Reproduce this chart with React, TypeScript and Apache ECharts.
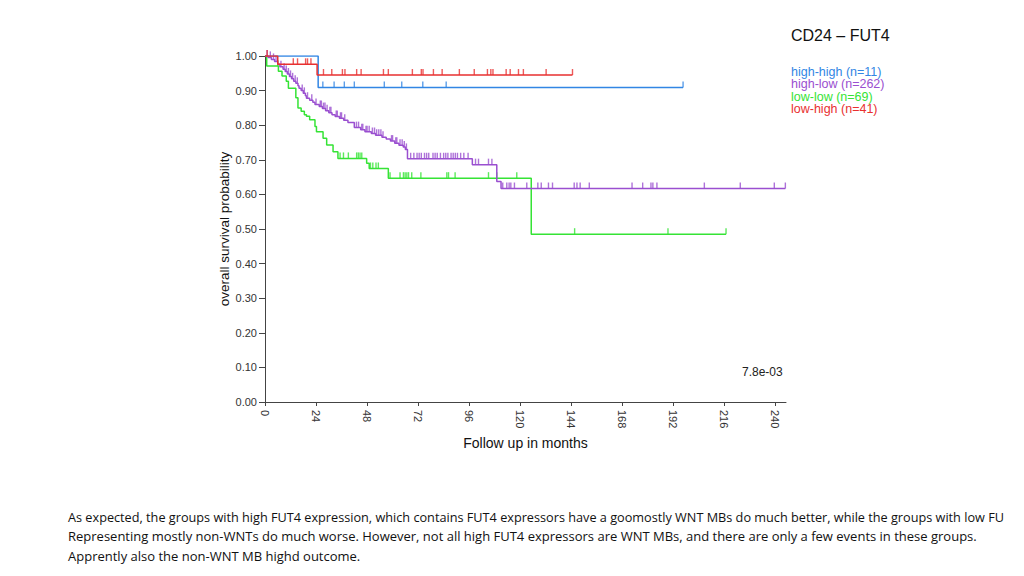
import React, { useEffect, useRef } from "react";
import * as echarts from "echarts";

// ---- data ----
const xTicks = [0, 24, 48, 72, 96, 120, 144, 168, 192, 216, 240];
const groupNames = ["high-high (n=11)", "high-low (n=262)", "low-low (n=69)", "low-high (n=41)"];
const groupColors = ["#3286e4", "#9a4fd0", "#35e335", "#e83030"];

// high-high (blue)
const hhTimes = [0, 25, 196.6];
const hhSurv = [1.0, 0.909, 0.909];
const hhCensor = [27.2, 32.5, 37.3, 42.0, 56.1, 64.3, 74.2, 85.2, 196.6];

// high-low (purple)
const hlTimes = [0, 1.5, 3, 4.5, 6, 7, 8.5, 9.5, 10.5, 11.5, 12.5, 13.5, 14.5, 15.5, 16, 17, 18, 19, 19.5, 21, 22.5, 23.5, 25.5, 27, 28.5, 30, 31.5, 33, 35, 37, 39, 42, 45, 47, 50, 52, 55, 57, 59, 61, 63, 65, 66, 67, 97.5, 109, 111, 244.7];
const hlSurv = [1.0, 0.996, 0.99, 0.984, 0.976, 0.969, 0.962, 0.955, 0.948, 0.941, 0.934, 0.927, 0.921, 0.914, 0.907, 0.9, 0.892, 0.885, 0.878, 0.872, 0.866, 0.86, 0.854, 0.848, 0.842, 0.836, 0.83, 0.825, 0.82, 0.814, 0.808, 0.793, 0.787, 0.781, 0.776, 0.771, 0.765, 0.76, 0.754, 0.748, 0.742, 0.737, 0.73, 0.703, 0.686, 0.637, 0.617, 0.617];
const hlCensor = [1, 2.5, 4, 5.2, 7.5, 9, 10, 11, 12, 13, 14.2, 15.2, 17.5, 18.5, 20, 22, 24, 26, 26.5, 27.5, 28.2, 29.2, 30.5, 31, 33.5, 34, 35.5, 36, 37.5, 43, 44, 45.5, 46, 47.5, 48, 49, 50.5, 51.5, 52.5, 53.5, 54.5, 55.5, 59.5, 60, 61.5, 62, 63.5, 64.5, 65.5, 66.5, 68.5, 70, 71.5, 72.5, 73.5, 75, 76, 77, 79, 80, 81, 82.5, 84, 85, 86, 87.5, 88.5, 89.5, 90.5, 92, 93.5, 95.5, 99, 100.4, 105.1, 106.7, 111.8, 113.7, 114.8, 115.6, 117.3, 123.1, 128.3, 129.9, 133.3, 135.2, 145.4, 146.7, 148.2, 152.5, 172.6, 177.6, 181.5, 182.4, 184.3, 206.6, 223.5, 239.5, 244.7];

// low-low (green)
const llTimes = [0, 0.8, 6.3, 8, 10, 11, 14.5, 15.5, 17, 18.5, 19.5, 21, 23.5, 24.2, 27.3, 29, 32, 34.3, 47.8, 49, 58, 125.2, 216.8];
const llSurv = [1.0, 0.971, 0.956, 0.942, 0.927, 0.907, 0.879, 0.85, 0.84, 0.83, 0.826, 0.816, 0.796, 0.781, 0.762, 0.743, 0.723, 0.704, 0.69, 0.675, 0.647, 0.485, 0.485];
const llCensor = [6, 35.3, 36.9, 39.2, 43.1, 43.9, 44.7, 45.5, 49.6, 50.7, 52.2, 53.3, 58.8, 63.5, 65.1, 65.9, 66.7, 67.5, 69, 73.3, 85.5, 86.3, 89.4, 105.1, 109, 118.4, 145.6, 189.5, 216.8];

// low-high (red)
const lhTimes = [0, 6, 24.5, 144.6];
const lhSurv = [1.0, 0.976, 0.945, 0.945];
const lhCensor = [1, 13.3, 15.3, 19.1, 20.0, 21.6, 27.5, 31.4, 36.4, 37.6, 43.1, 45.2, 55.7, 58.0, 69.3, 73.5, 74.3, 79.2, 83.3, 91.4, 98.4, 104.6, 106.2, 107.2, 113.4, 115.3, 119.2, 121.5, 132.2, 144.6];

const pValueText = "7.8e-03";
const titleText = "CD24 \u2013 FUT4";
const yAxisTitle = "overall survival probability";
const noteLines = [
  "As expected, the groups with high FUT4 expression, which contains FUT4 expressors have a goomostly WNT MBs do much better, while the groups with low FU",
  "Representing mostly non-WNTs do much worse. However, not all high FUT4 expressors are WNT MBs, and there are only a few events in these groups.",
  "Apprently also the non-WNT MB highd outcome.",
];
const noteSizes = [12.7, 13, 13];

const groups = [
  { times: hhTimes, surv: hhSurv, censor: hhCensor },
  { times: llTimes, surv: llSurv, censor: llCensor },
  { times: hlTimes, surv: hlSurv, censor: hlCensor },
  { times: lhTimes, surv: lhSurv, censor: lhCensor },
];
const groupIdx = [0, 2, 1, 3];

function survAt(times: number[], surv: number[], t: number) {
  let v = surv[0];
  for (let i = 0; i < times.length; i++) {
    if (times[i] <= t) v = surv[i];
  }
  return v;
}

export default function App() {
  const ref = useRef<HTMLDivElement>(null);
  useEffect(() => {
    if (!ref.current) return;
    const chart = echarts.init(ref.current, null, { renderer: "svg" });
    const series: any[] = [];
    groups.forEach((g, k) => {
      const color = groupColors[groupIdx[k]];
      series.push({
        type: "line",
        step: "end",
        data: g.times.map((t, i) => [t, g.surv[i]]),
        showSymbol: false,
        lineStyle: { color, width: 1.5 },
        itemStyle: { color },
        z: 2 + k,
      });
      series.push({
        type: "scatter",
        data: g.censor.map((t) => [t, survAt(g.times, g.surv, t)]),
        symbol: "rect",
        symbolSize: [1.4, 6],
        symbolOffset: [0, -3],
        itemStyle: { color },
        z: 2 + k,
      });
    });
    const font = "Liberation Sans, Arial, sans-serif";
    const noteFont = "Open Sans, Liberation Sans, sans-serif";
    chart.setOption({
      animation: false,
      grid: { left: 265, right: 238, top: 56, bottom: 174, containLabel: false },
      xAxis: {
        type: "value",
        min: 0,
        max: 245,
        interval: 24,
        name: "Follow up in months",
        nameLocation: "middle",
        nameGap: 32,
        nameTextStyle: { fontFamily: font, fontSize: 14, color: "#111" },
        axisLine: { show: true, lineStyle: { color: "#444", width: 1 } },
        axisTick: { show: true, length: 4, lineStyle: { color: "#444" }, customValues: xTicks },
        axisLabel: {
          rotate: -90,
          fontFamily: font,
          fontSize: 11,
          color: "#333",
          margin: 8,
          customValues: xTicks,
        },
        splitLine: { show: false },
      },
      yAxis: {
        type: "value",
        min: 0,
        max: 1,
        interval: 0.1,
        axisLine: { show: true, lineStyle: { color: "#444", width: 1 } },
        axisTick: { show: true, length: 6, lineStyle: { color: "#444" } },
        axisLabel: {
          fontFamily: font,
          fontSize: 11,
          color: "#333",
          margin: 8,
          formatter: (v: number) => v.toFixed(2),
        },
        splitLine: { show: false },
      },
      graphic: [
        {
          type: "text",
          x: 224,
          y: 229,
          rotation: Math.PI / 2,
          style: {
            text: yAxisTitle,
            font: `13.5px ${font}`,
            fill: "#111",
            align: "center",
            verticalAlign: "middle",
          },
        },
        {
          type: "text",
          left: 791,
          top: 27,
          style: { text: titleText, font: `16px ${font}`, fill: "#111" },
        },
        ...groupNames.map((n, i) => ({
          type: "text",
          left: 791,
          top: 65 + i * 12.5,
          style: { text: n, font: `12.5px ${font}`, fill: groupColors[i] },
        })),
        {
          type: "text",
          left: 742,
          top: 366,
          style: { text: pValueText, font: `12px ${font}`, fill: "#222" },
        },
        ...noteLines.map((t, i) => ({
          type: "text",
          left: 68,
          top: 510 + i * 19.5,
          style: { text: t, font: `${noteSizes[i]}px ${noteFont}`, fill: "#111" },
        })),
      ],
      series,
    });
    return () => chart.dispose();
  }, []);
  return (
    <div
      ref={ref}
      style={{ position: "fixed", left: 0, top: 0, width: 1024, height: 576, overflow: "hidden", background: "#fff" }}
    />
  );
}
